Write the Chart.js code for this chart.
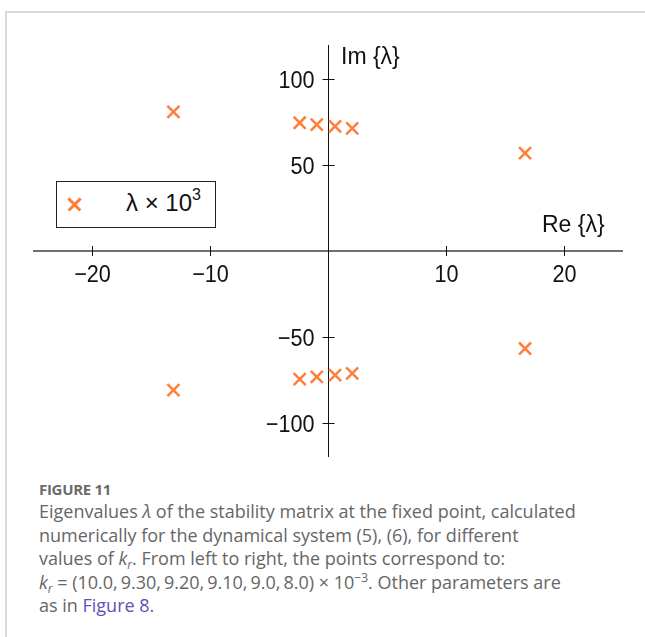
<!DOCTYPE html>
<html>
<head>
<meta charset="utf-8">
<title>Eigenvalues</title>
<script src="https://cdn.jsdelivr.net/npm/chart.js@4.4.1/dist/chart.umd.min.js"></script>
<style>
  html, body { margin:0; padding:0; background:#fff; }
  #page { position:relative; width:645px; height:637px; overflow:hidden; font-family:"Liberation Sans", Arial, sans-serif; }
  #frame { position:absolute; left:5px; top:11px; width:700px; height:700px; border-top:2px solid #dadada; border-left:2px solid #dadada; }
  #plot { position:absolute; left:0; top:0; }
  .axis-title { position:absolute; font-size:23px; line-height:23px; color:#111; white-space:nowrap; }
  #legend { position:absolute; left:56px; top:181px; width:160px; height:47px; box-sizing:border-box; border:1px solid #222; background:#fff; }
  #legend .mark { position:absolute; left:9px; top:14px; width:17px; height:17px; }
  #legend .mark::before, #legend .mark::after { content:""; position:absolute; left:0; top:7px; width:17px; height:2.5px; background:#ff7f3a; }
  #legend .mark::before { transform:rotate(45deg); }
  #legend .mark::after { transform:rotate(-45deg); }
  #legend .lbl { position:absolute; left:69px; top:9px; font-size:24px; line-height:24px; color:#111; white-space:nowrap; }
  #legend sup { font-size:16px; position:relative; top:-11px; vertical-align:baseline; line-height:0; }
  .cap { position:absolute; left:39px; font-family:"Open Sans", "Noto Sans", sans-serif; }
  #fig { top:480px; font-size:15px; line-height:18px; font-weight:700; color:#6b6b6b; letter-spacing:-0.3px; }
  #desc { top:500px; width:606px; font-size:18px; line-height:23.5px; color:#666; white-space:nowrap; }
  #desc a { color:#5b52b8; text-decoration:none; }
  #desc sub, #desc sup { font-size:12px; line-height:0; position:relative; vertical-align:baseline; }
  #desc sub { top:4px; }
  #desc sup { top:-7px; }
</style>
</head>
<body>
<div id="page">
  <div id="frame"></div>
  <canvas id="plot" width="645" height="470"></canvas>
  <div class="axis-title" style="left:341px; top:45px;">Im {λ}</div>
  <div class="axis-title" style="left:542px; top:213px;">Re {λ}</div>
  <div id="legend"><span class="mark"></span><span class="lbl">λ × 10<sup>3</sup></span></div>
  <div class="cap" id="fig">FIGURE 11</div>
  <div class="cap" id="desc">Eigenvalues <i>λ</i> of the stability matrix at the fixed point, calculated<br>numerically for the dynamical system (5), (6), for different<br>values of <i>k<sub>r</sub></i>. From left to right, the points correspond to:<br><i>k<sub>r</sub></i> = (10.0,&thinsp;9.30,&thinsp;9.20,&thinsp;9.10,&thinsp;9.0,&thinsp;8.0) × 10<sup>−3</sup>. Other parameters are<br>as in <a href="#">Figure 8</a>.</div>
</div>
<script>
// eigenvalues (Re, Im)
const reParts = [-13.1, -2.4, -0.95, 0.6, 2.05, 16.7];
const imUpper = [81, 74.7, 73.6, 72.6, 71.4, 57];
const imLower = [-81, -74.6, -73.3, -72.3, -71.3, -56.8];
const xTicks = [-20, -10, 10, 20];
const yTicks = [-100, -50, 50, 100];

const points = reParts.map((re, i) => ({x: re, y: imUpper[i]}))
  .concat(reParts.map((re, i) => ({x: re, y: imLower[i]})));

const fmt = v => (v < 0 ? '\u2212' + Math.abs(v) : String(v));

// narrow-ish label like the original
function label(ctx, text, px, py, align) {
  ctx.save();
  ctx.translate(px, py);
  ctx.scale(0.9, 1);
  ctx.textAlign = align;
  ctx.textBaseline = 'alphabetic';
  ctx.fillText(text, 0, 0);
  ctx.restore();
}

// axes crossing at the origin, with ticks through the lines
const crossAxes = {
  id: 'crossAxes',
  beforeDatasetsDraw(chart) {
    const {ctx, chartArea: a, scales: {x, y}} = chart;
    const x0 = Math.round(x.getPixelForValue(0)) + 0.5;
    const y0 = Math.round(y.getPixelForValue(0));
    ctx.save();
    ctx.strokeStyle = '#707070';
    ctx.lineWidth = 2;
    ctx.beginPath(); ctx.moveTo(a.left, y0); ctx.lineTo(a.right, y0); ctx.stroke();
    ctx.strokeStyle = '#111';
    ctx.lineWidth = 1;
    ctx.beginPath(); ctx.moveTo(x0, a.top); ctx.lineTo(x0, a.bottom); ctx.stroke();

    ctx.font = '24px "Liberation Sans", Arial, sans-serif';
    ctx.fillStyle = '#111';
    xTicks.forEach(v => {
      const px = Math.round(x.getPixelForValue(v)) + 0.5;
      ctx.beginPath(); ctx.moveTo(px, y0 - 5); ctx.lineTo(px, y0 + 5); ctx.stroke();
      label(ctx, fmt(v), px, y0 + 31, 'center');
    });
    yTicks.forEach(v => {
      const py = Math.round(y.getPixelForValue(v)) + 0.5;
      ctx.beginPath(); ctx.moveTo(x0 - 6, py); ctx.lineTo(x0 + 6, py); ctx.stroke();
      label(ctx, fmt(v), x0 - 14, py + 8.5, 'right');
    });
    ctx.restore();
  }
};

new Chart(document.getElementById('plot'), {
  type: 'scatter',
  data: {
    datasets: [{
      label: 'λ × 10³',
      data: points,
      pointStyle: 'crossRot',
      pointRadius: 8.5,
      pointBorderWidth: 2.5,
      borderColor: '#ff7f3a',
      backgroundColor: '#ff7f3a'
    }]
  },
  options: {
    responsive: false,
    animation: false,
    devicePixelRatio: 1,
    layout: {padding: {left: 33, right: 22, top: 45, bottom: 13}},
    plugins: {legend: {display: false}, tooltip: {enabled: false}},
    scales: {
      x: {type: 'linear', min: -25, max: 25, display: false},
      y: {type: 'linear', min: -120, max: 120, display: false}
    }
  },
  plugins: [crossAxes]
});
</script>
</body>
</html>
